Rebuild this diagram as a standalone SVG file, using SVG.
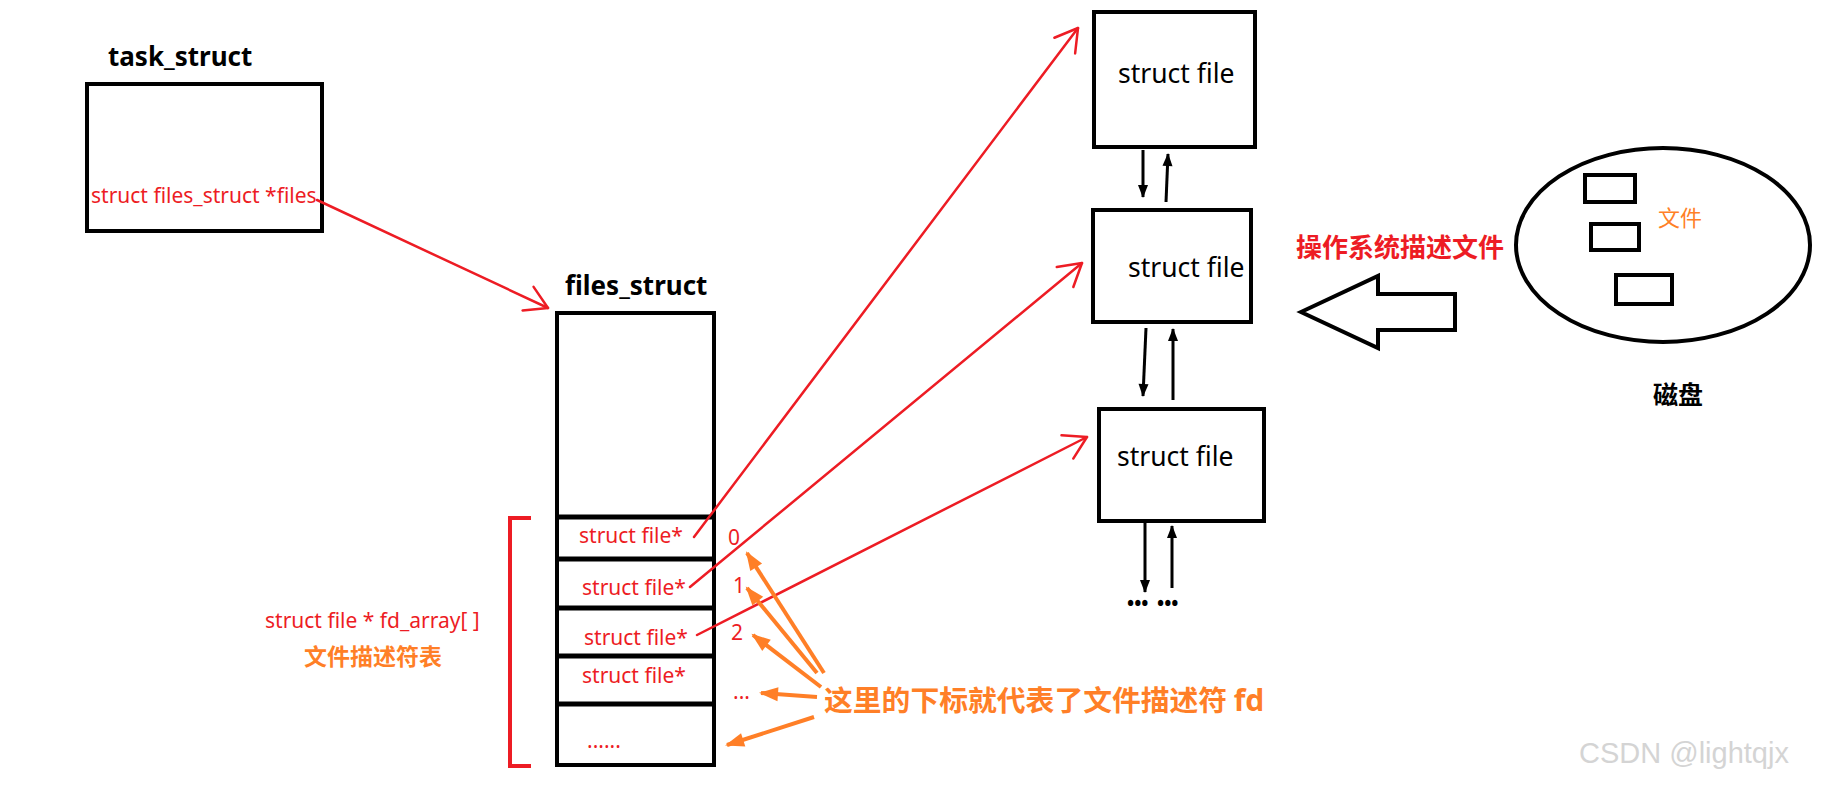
<svg xmlns="http://www.w3.org/2000/svg" width="1822" height="785" viewBox="0 0 1822 785">
<defs>
<style>
.box{fill:none;stroke:#000;stroke-width:4}
.sep{stroke:#000;stroke-width:5}
.title{font-family:"Noto Sans","Noto Sans CJK SC",sans-serif;font-weight:bold;font-size:26px;fill:#000}
.sf{font-family:"Noto Sans","Noto Sans CJK SC",sans-serif;font-size:26.5px;fill:#000}
.red{font-family:"Noto Sans","Noto Sans CJK SC",sans-serif;font-size:21px;fill:#ED1C24}
.cjk{font-family:"Noto Sans CJK SC","Noto Sans",sans-serif}
.dots{font-family:"Noto Sans",sans-serif;font-weight:bold;font-size:19px;fill:#000}
.rl{fill:none;stroke:#ED1C24;stroke-width:2.5;stroke-linecap:round}
.ol{fill:none;stroke:#FF7F27;stroke-width:4}
.bl{fill:none;stroke:#000;stroke-width:3}
</style>
<marker id="rh" viewBox="-26 -16 30 32" refX="0" refY="0" markerWidth="30" markerHeight="32" markerUnits="userSpaceOnUse" orient="auto" overflow="visible">
<path d="M-22,-13 L0,0 L-22,13" fill="none" stroke="#ED1C24" stroke-width="2.5" stroke-linecap="round" stroke-linejoin="round"/>
</marker>
<marker id="oh" viewBox="-18 -8 20 16" refX="0" refY="0" markerWidth="20" markerHeight="16" markerUnits="userSpaceOnUse" orient="auto" overflow="visible">
<path d="M-17,-7 L2,0 L-17,7 Z" fill="#FF7F27"/>
</marker>
<marker id="bh" viewBox="-14 -6 16 12" refX="0" refY="0" markerWidth="16" markerHeight="12" markerUnits="userSpaceOnUse" orient="auto" overflow="visible">
<path d="M-12,-5 L1,0 L-12,5 Z" fill="#000"/>
</marker>
</defs>
<rect width="1822" height="785" fill="#fff"/>

<g id="task_struct">
<text class="title" x="108" y="66">task_struct</text>
<rect class="box" x="87" y="84" width="235" height="147"/>
<text class="red" x="91" y="203">struct files_struct *files</text>
</g>

<g id="files_struct">
<text class="title" x="565" y="295">files_struct</text>
<rect class="box" x="557" y="313" width="157" height="452"/>
<line class="sep" x1="557" y1="517" x2="714" y2="517"/>
<line class="sep" x1="557" y1="559" x2="714" y2="559"/>
<line class="sep" x1="557" y1="608" x2="714" y2="608"/>
<line class="sep" x1="557" y1="656" x2="714" y2="656"/>
<line class="sep" x1="557" y1="704" x2="714" y2="704"/>
<text class="red" x="579" y="543">struct file*</text>
<text class="red" x="582" y="595">struct file*</text>
<text class="red" x="584" y="645">struct file*</text>
<text class="red" x="582" y="683">struct file*</text>
<text class="red" x="587" y="748">......</text>
</g>

<g id="fd_array">
<path d="M531,518 H510 V766 H531" fill="none" stroke="#ED1C24" stroke-width="4"/>
<text class="red" x="265" y="628">struct file * fd_array[ ]</text>
<text class="cjk" x="373" y="665" text-anchor="middle" font-size="23" font-weight="bold" fill="#FF7F27">文件描述符表</text>
</g>

<g id="indices">
<text class="red" x="728" y="545" font-size="20">0</text>
<text class="red" x="733" y="593" font-size="20">1</text>
<text class="red" x="731" y="640" font-size="20">2</text>
<text class="red" x="733" y="699" font-size="16">...</text>
</g>

<g id="file1">
<rect class="box" x="1094" y="12" width="161" height="135"/>
<text class="sf" x="1118" y="83">struct file</text>
</g>
<g id="file2">
<rect class="box" x="1093" y="210" width="158" height="112"/>
<text class="sf" x="1128" y="277">struct file</text>
</g>
<g id="file3">
<rect class="box" x="1099" y="409" width="165" height="112"/>
<text class="sf" x="1117" y="466">struct file</text>
</g>
<g id="more">
<text class="dots" x="1127" y="610">•••</text>
<text class="dots" x="1157" y="610">•••</text>
</g>

<g id="disk">
<ellipse cx="1663" cy="245" rx="147" ry="97" fill="none" stroke="#000" stroke-width="4"/>
<rect class="box" x="1585" y="175" width="50" height="27"/>
<rect class="box" x="1591" y="224" width="48" height="26"/>
<rect class="box" x="1616" y="275" width="56" height="29"/>
<text class="cjk" x="1658" y="226" font-size="22" fill="#FF7F27">文件</text>
<text class="cjk" x="1678" y="404" text-anchor="middle" font-size="25" font-weight="bold" fill="#000">磁盘</text>
</g>

<g id="os_describe">
<polygon points="1301,312 1378,276 1378,294 1455,294 1455,330 1378,330 1378,348" fill="#fff" stroke="#000" stroke-width="4" stroke-linejoin="miter"/>
<text class="cjk" x="1400" y="257" text-anchor="middle" font-size="26" font-weight="bold" fill="#ED1C24">操作系统描述文件</text>
</g>

<g id="fd_note">
<text class="cjk" x="824" y="711" font-size="28.8" font-weight="bold" fill="#FF7F27">这里的下标就代表了文件描述符 <tspan font-family="Noto Sans, sans-serif" font-size="30">fd</tspan></text>
</g>

<g id="watermark">
<text x="1579" y="763" font-family="Liberation Sans, sans-serif" font-size="29" fill="#d4d4d4">CSDN @lightqjx</text>
</g>

<g id="connectors">
<line class="rl" x1="317" y1="200" x2="548" y2="308" marker-end="url(#rh)"/>
<line class="rl" x1="694" y1="537" x2="1078" y2="28" marker-end="url(#rh)"/>
<line class="rl" x1="690" y1="587" x2="1082" y2="263" marker-end="url(#rh)"/>
<line class="rl" x1="697" y1="635" x2="1087" y2="437" marker-end="url(#rh)"/>

<line class="bl" x1="1143" y1="150" x2="1143" y2="197" marker-end="url(#bh)"/>
<line class="bl" x1="1166" y1="202" x2="1168" y2="154" marker-end="url(#bh)"/>
<line class="bl" x1="1146" y1="328" x2="1143" y2="396" marker-end="url(#bh)"/>
<line class="bl" x1="1173" y1="400" x2="1173" y2="329" marker-end="url(#bh)"/>
<line class="bl" x1="1145" y1="523" x2="1145" y2="592" marker-end="url(#bh)"/>
<line class="bl" x1="1172" y1="588" x2="1172" y2="526" marker-end="url(#bh)"/>

<line class="ol" x1="824" y1="673" x2="747" y2="553" marker-end="url(#oh)"/>
<line class="ol" x1="817" y1="673" x2="747" y2="588" marker-end="url(#oh)"/>
<line class="ol" x1="821" y1="687" x2="753" y2="635" marker-end="url(#oh)"/>
<line class="ol" x1="817" y1="697" x2="761" y2="693" marker-end="url(#oh)"/>
<line class="ol" x1="814" y1="717" x2="727" y2="745" marker-end="url(#oh)"/>
</g>
</svg>
